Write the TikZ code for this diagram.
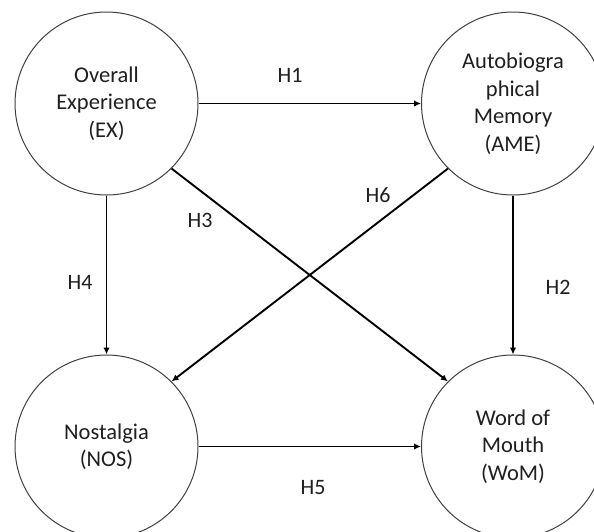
\documentclass[tikz,border=0pt]{standalone}
\usepackage{fontspec}
\setmainfont{Carlito}
\usetikzlibrary{arrows.meta}
\begin{document}
\begin{tikzpicture}[x=1pt,y=-1pt,
  construct/.style={circle,draw=black!75,line width=1pt,minimum size=183pt,inner sep=0pt,align=center,font=\fontsize{22.5}{27.5}\selectfont,text=black!88},
  hyp/.style={line width=1.9pt,-{Latex[length=7pt,width=6.5pt]}},
  hlabel/.style={font=\fontsize{22}{25}\selectfont,text=black!88,inner sep=0pt}]
\useasboundingbox (0,0) rectangle (594,531);
\clip (0,0) rectangle (594,531);
\fill[white] (0,0) rectangle (594,531);
\node[construct] (EX) at (106.5,103.5) {Overall\\Experience\\(EX)};
\node[construct] (AME) at (513,103.5) {Autobiogra\\phical\\Memory\\(AME)};
\node[construct] (NOS) at (106.5,446.5) {Nostalgia\\(NOS)};
\node[construct] (WOM) at (513,446.5) {Word of\\Mouth\\(WoM)};
\draw[hyp] (EX) -- (AME);
\draw[hyp] (EX) -- (NOS);
\draw[hyp] (AME) -- (WOM);
\draw[hyp] (NOS) -- (WOM);
\draw[hyp] (EX.-45) -- (WOM.135);
\draw[hyp] (AME.-135) -- (NOS.45);
\node[hlabel] (h1) at (290,75) {H1};
\node[hlabel] (h3) at (200,220) {H3};
\node[hlabel] (h6) at (378,195) {H6};
\node[hlabel] (h4) at (80,282) {H4};
\node[hlabel] (h2) at (558,287) {H2};
\node[hlabel] (h5) at (313,488) {H5};
\end{tikzpicture}
\end{document}
